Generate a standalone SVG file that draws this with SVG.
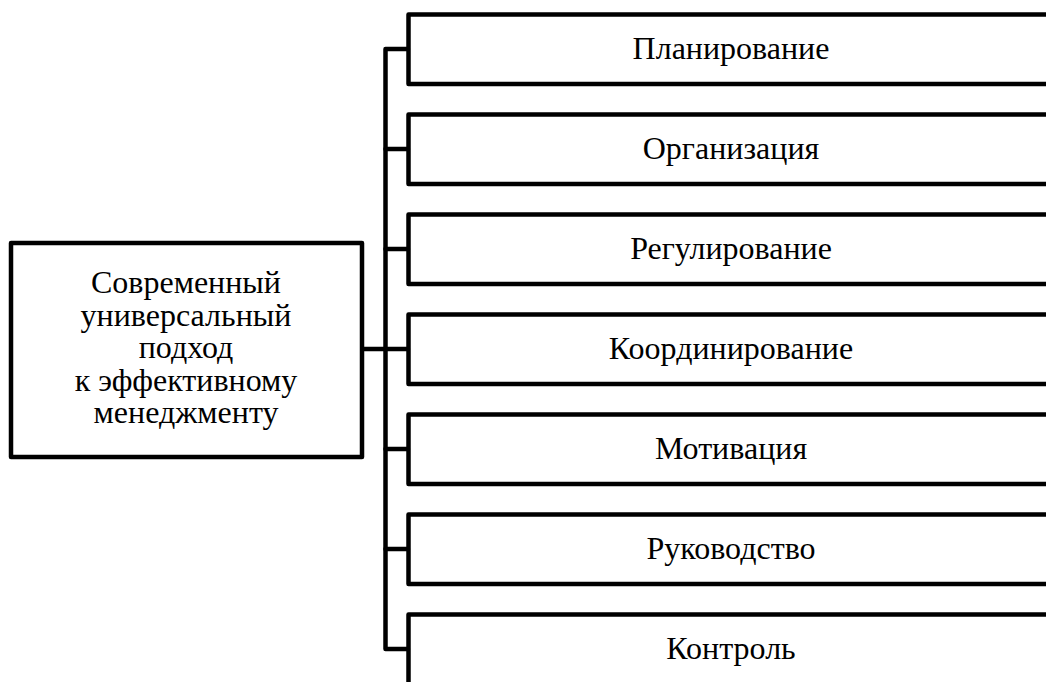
<svg xmlns="http://www.w3.org/2000/svg" width="1046" height="682" viewBox="0 0 1046 682">
<style>
.box{fill:#fff;stroke:#000;stroke-width:4.5;stroke-linejoin:round}
.ln{fill:none;stroke:#000;stroke-width:4.5;stroke-linejoin:round;stroke-linecap:round}
text{font-family:"Liberation Serif","Times New Roman",serif;font-size:32px;fill:#000;text-anchor:middle}
</style>
<rect width="1046" height="682" fill="#fff"/>
<g id="connectors">
<path class="ln" d="M408,49 H385.5 V649 H408"/>
<path class="ln" d="M385.5,149 H408 M385.5,249 H408 M362,349 H408 M385.5,449 H408 M385.5,549 H408"/>
</g>
<g id="root">
<rect class="box" x="11" y="243" width="351" height="214"/>
<text x="186" y="293">Современный</text>
<text x="186" y="326">универсальный</text>
<text x="186" y="358">подход</text>
<text x="186" y="391">к эффективному</text>
<text x="186" y="423">менеджменту</text>
</g>
<g id="n1"><path class="ln" d="M1050,14.5 H408.5 V84 H1050"/><text x="731" y="59">Планирование</text></g>
<g id="n2"><path class="ln" d="M1050,114.5 H408.5 V184 H1050"/><text x="731" y="159">Организация</text></g>
<g id="n3"><path class="ln" d="M1050,214.5 H408.5 V284 H1050"/><text x="731" y="259">Регулирование</text></g>
<g id="n4"><path class="ln" d="M1050,314.5 H408.5 V384 H1050"/><text x="731" y="359">Координирование</text></g>
<g id="n5"><path class="ln" d="M1050,414.5 H408.5 V484 H1050"/><text x="731" y="459">Мотивация</text></g>
<g id="n6"><path class="ln" d="M1050,514.5 H408.5 V584 H1050"/><text x="731" y="559">Руководство</text></g>
<g id="n7"><path class="ln" d="M1050,614.5 H408.5 V690"/><text x="731" y="659">Контроль</text></g>
</svg>
